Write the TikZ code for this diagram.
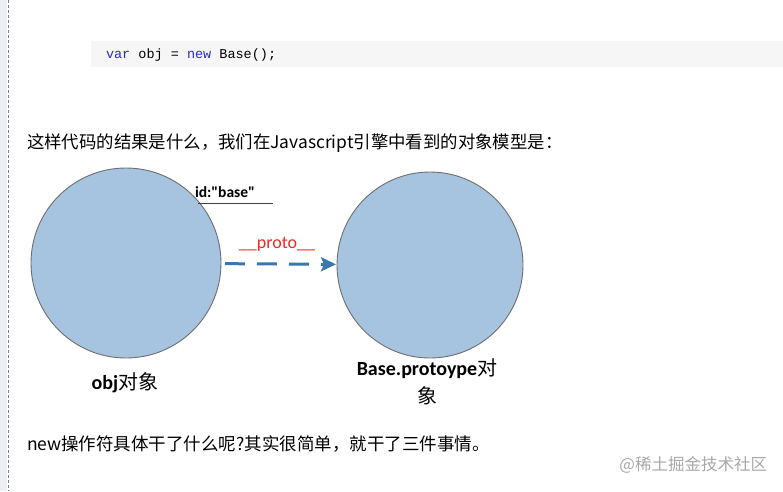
\documentclass[tikz,border=0pt]{standalone}
\usepackage{fontspec}
\setmainfont{Noto Sans CJK SC}
\newfontfamily\calfont{Carlito}
\newfontfamily\codefont{Liberation Mono}
\usetikzlibrary{arrows.meta}
\definecolor{ballfill}{HTML}{A6C3DF}
\definecolor{ballline}{HTML}{6E6E6E}
\definecolor{linkblue}{HTML}{3B76AD}
\definecolor{protored}{HTML}{F02828}
\definecolor{kw}{HTML}{2A2AD0}
\definecolor{codebg}{HTML}{F6F6F6}
\definecolor{stripbg}{HTML}{EAF0F3}
\definecolor{markgray}{HTML}{A8A8A8}
\tikzset{
  ball/.style={circle,draw=ballline,fill=ballfill,line width=0.9pt,inner sep=0pt},
  link/.style={linkblue,line width=3pt,dash pattern=on 20pt off 12pt,-{Stealth[length=15pt,width=14pt,inset=3pt]}},
  fsz/.style={font=\fontsize{#1}{#1}\selectfont}
}
\begin{document}
\begin{tikzpicture}[x=1pt,y=-1pt,every node/.style={inner sep=0pt,outer sep=0pt}]
		\useasboundingbox(0,0)rectangle(783,491);
		\coordinate(S)at(8,0);
		\coordinate(C)at(106,55);
		\coordinate(O)at(126,263);
		\coordinate(P)at(430,265);
		\coordinate(T1)at(27,143);
		\coordinate(T2)at(27,444);
		\coordinate(W)at(767,465);
		\fill[stripbg](0,0)rectangle(7,491);
		\draw[gray,line width=1pt,dash pattern=on 3pt off 2pt](S)--++(0,491);
		\fill[codebg](91,41)rectangle(783,67);
		\node[anchor=west,font=\codefont\fontsize{13.5}{16}\selectfont](code)at(C){\textcolor{kw}{var} obj = \textcolor{kw}{new} Base();};
		\node[anchor=west,fsz=17.4](intro)at(T1){这样代码的结果是什么，我们在Javascript引擎中看到的对象模型是：};
		\node[ball,minimum size=190pt](obj)at(O){};
		\node[ball,minimum size=186pt](proto)at(P){};
		\draw[link,shorten <=4pt,shorten >=1pt](obj)--(proto);
		\node[anchor=west,font=\calfont\bfseries\fontsize{15.5}{16}\selectfont](id)at(195,192){id:"base"};
		\draw[darkgray,line width=0.9pt](198,203)--(273,203);
		\node[font=\calfont\fontsize{18}{20}\selectfont,text=protored](pname)at(277,244){\_\_proto\_\_};
		\node[fsz=20](objlab)at(125,383){{\calfont\bfseries obj}对象};
		\node[align=center,font=\fontsize{20}{28}\selectfont](protolab)at(427,382){{\calfont\bfseries Base.protoype}对\\象};
		\node[anchor=west,fsz=17.5](outro)at(T2){new操作符具体干了什么呢?其实很简单，就干了三件事情。};
		\node[anchor=east,fsz=16.5,text=markgray](mark)at(W){@稀土掘金技术社区};
		\end{tikzpicture}
\end{document}
